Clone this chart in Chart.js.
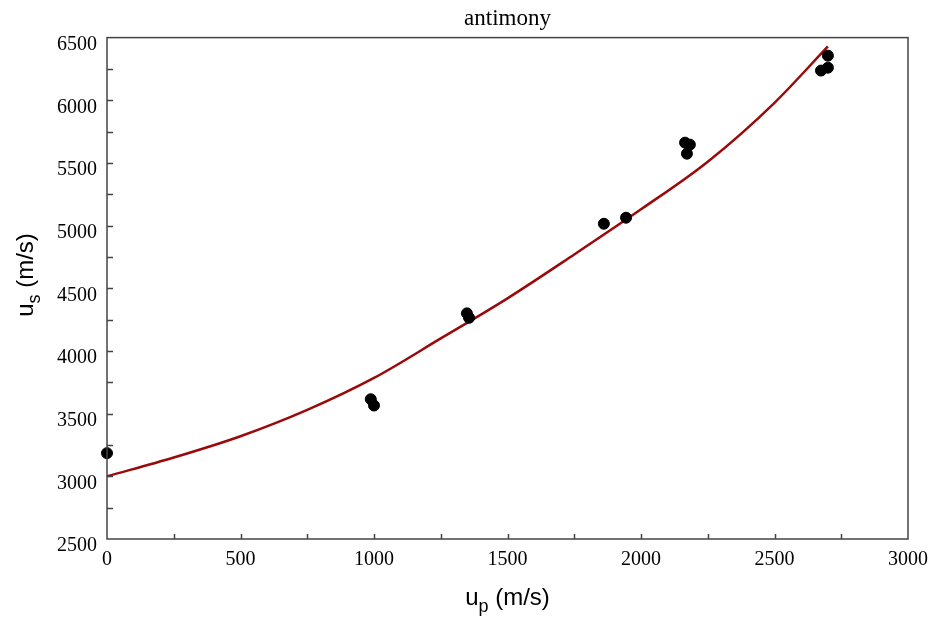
<!DOCTYPE html>
<html>
<head>
<meta charset="utf-8">
<script src="https://cdn.jsdelivr.net/npm/chart.js@4"></script>
<style>
  html, body { margin: 0; padding: 0; background: #fff; }
  #wrap { width: 935px; height: 625px; }
</style>
</head>
<body>
<div id="wrap"><canvas id="chart"></canvas></div>
<script>
// measured points (particle velocity, shock velocity)
var upData = [0, 988, 1000, 1348, 1356, 1861, 1944, 2165, 2183, 2172, 2700, 2700, 2674];
var usData = [3185, 3615, 3565, 4300, 4265, 5015, 5063, 5662, 5646, 5574, 6356, 6260, 6237];

// fitted curve
var fitUp = [0, 250, 500, 750, 1000, 1250, 1500, 1750, 2000, 2250, 2500, 2700];
var fitUs = [3000, 3150, 3320, 3530, 3785, 4100, 4420, 4770, 5130, 5510, 5980, 6430];

var xTicks = [0, 500, 1000, 1500, 2000, 2500, 3000];
var yTicks = [2500, 3000, 3500, 4000, 4500, 5000, 5500, 6000, 6500];

var chartTitle = "antimony";
var xTitle = ["u", "p", " (m/s)"];
var yTitle = ["u", "s", " (m/s)"];

var points = upData.map(function (v, i) { return { x: v, y: usData[i] }; });
var fit = fitUp.map(function (v, i) { return { x: v, y: fitUs[i] }; });

function subTitle(ctx, parts, cx, cy, rotate) {
  var big = "24px 'Liberation Sans', Arial, sans-serif";
  var small = "18px 'Liberation Sans', Arial, sans-serif";
  ctx.save();
  ctx.translate(cx, cy);
  if (rotate) ctx.rotate(-Math.PI / 2);
  ctx.fillStyle = "#000";
  ctx.textBaseline = "alphabetic";
  ctx.textAlign = "left";
  ctx.font = big;
  var w1 = ctx.measureText(parts[0]).width;
  var w3 = ctx.measureText(parts[2]).width;
  ctx.font = small;
  var w2 = ctx.measureText(parts[1]).width;
  var x = -(w1 + w2 + w3) / 2;
  ctx.font = big;
  ctx.fillText(parts[0], x, 0);
  ctx.font = small;
  ctx.fillText(parts[1], x + w1, 7);
  ctx.font = big;
  ctx.fillText(parts[2], x + w1 + w2, 0);
  ctx.restore();
}

var framePlugin = {
  id: "frame",
  afterDraw: function (chart) {
    var ctx = chart.ctx, a = chart.chartArea;
    var xs = chart.scales.x, ys = chart.scales.y;
    ctx.save();
    ctx.strokeStyle = "#444";
    ctx.lineWidth = 1.5;
    ctx.strokeRect(a.left, a.top, a.right - a.left, a.bottom - a.top);
    ctx.beginPath();
    for (var v = 250; v < 3000; v += 250) {
      var px = Math.round(xs.getPixelForValue(v)) + 0.5;
      ctx.moveTo(px, a.bottom);
      ctx.lineTo(px, a.bottom - 5);
    }
    for (var u = 2750; u < 6500; u += 250) {
      var py = Math.round(ys.getPixelForValue(u)) + 0.5;
      ctx.moveTo(a.left, py);
      ctx.lineTo(a.left + 6, py);
    }
    ctx.stroke();
    ctx.restore();
    subTitle(ctx, xTitle, (a.left + a.right) / 2, 605, false);
    subTitle(ctx, yTitle, 33, 275, true);
  }
};

var tickFont = { family: "'Liberation Serif', 'Times New Roman', serif", size: 20 };
function plain(v) { return String(v); }

new Chart(document.getElementById("chart"), {
  type: "scatter",
  data: {
    datasets: [{
      label: "fit",
      data: fit,
      showLine: true,
      borderColor: "#9a0a0a",
      borderWidth: 2.5,
      pointRadius: 0,
      cubicInterpolationMode: "monotone",
      order: 2
    }, {
      label: "data",
      data: points,
      backgroundColor: "#000",
      borderColor: "#000",
      pointRadius: 5.5,
      clip: false,
      order: 1
    }]
  },
  options: {
    responsive: true,
    maintainAspectRatio: false,
    animation: false,
    layout: { padding: { top: 0, right: 27, left: 0, bottom: 0 } },
    plugins: {
      legend: { display: false },
      tooltip: { enabled: false },
      title: {
        display: true,
        text: chartTitle,
        fullSize: false,
        color: "#000",
        font: { family: "'Liberation Serif', 'Times New Roman', serif", size: 23, weight: "normal" },
        padding: { top: 5, bottom: 5 }
      }
    },
    scales: {
      x: {
        type: "linear",
        min: 0,
        max: 3000,
        afterBuildTicks: function (s) { s.ticks = xTicks.map(function (v) { return { value: v }; }); },
        afterFit: function (s) { s.height = 86; s.paddingRight = 0; s.paddingLeft = 0; },
        grid: { display: false, drawTicks: false, tickLength: 0 },
        border: { display: false },
        ticks: { color: "#000", font: tickFont, padding: 9, maxRotation: 0, callback: plain }
      },
      y: {
        type: "linear",
        min: 2500,
        max: 6500,
        afterBuildTicks: function (s) { s.ticks = yTicks.map(function (v) { return { value: v }; }); },
        afterFit: function (s) { s.width = 107; s.paddingTop = 0; s.paddingBottom = 0; },
        grid: { display: false, drawTicks: false, tickLength: 0 },
        border: { display: false },
        ticks: { color: "#000", font: tickFont, padding: 10, labelOffset: 7, callback: plain }
      }
    }
  },
  plugins: [framePlugin]
});
</script>
</body>
</html>
